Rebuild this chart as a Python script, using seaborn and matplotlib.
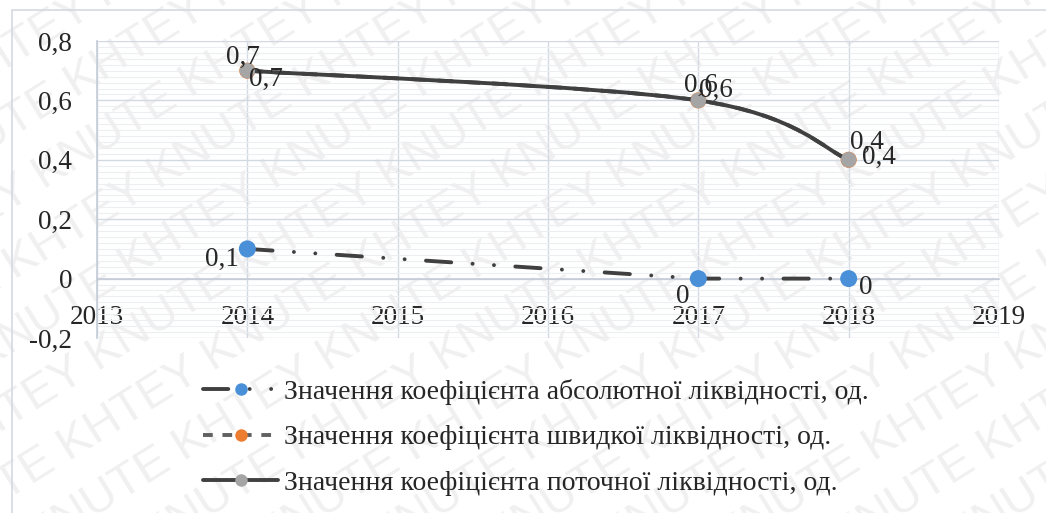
import numpy as np
import pandas as pd
import seaborn as sns
import matplotlib.pyplot as plt
from matplotlib.path import Path
from matplotlib.patches import PathPatch, Rectangle
from matplotlib.lines import Line2D
from matplotlib.ticker import MultipleLocator

years = [2014, 2017, 2018]
absolute = [0.1, 0.0, 0.0]
quick = [0.7, 0.6, 0.4]
current = [0.7, 0.6, 0.4]

abs_labels = ["0,1", "0", "0"]
quick_labels = ["0,7", "0,6", "0,4"]
current_labels = ["0,7", "0,6", "0,4"]

series_names = [
    "Значення коефіцієнта абсолютної ліквідності, од.",
    "Значення коефіцієнта швидкої ліквідності, од.",
    "Значення коефіцієнта поточної ліквідності, од.",
]

x_ticks = [2013, 2014, 2015, 2016, 2017, 2018, 2019]
y_ticks = [-0.2, 0.0, 0.2, 0.4, 0.6, 0.8]
y_ticklabels = ["-0,2", "0", "0,2", "0,4", "0,6", "0,8"]

df = pd.DataFrame({"year": years, "absolute": absolute, "quick": quick, "current": current})

sns.set_theme(style="white")
SERIF = "Liberation Serif"
plt.rcParams["font.family"] = SERIF
FS = 19.5
FS_LEG = 20

fig = plt.figure(figsize=(10.46, 5.13), dpi=100)

# watermark
for i in range(-8, 12):
    fig.text(-0.15 + i * 0.11, -0.45, "KNUTE KHTEY " * 10, rotation=32, fontsize=34,
             family="Liberation Sans", color="#f0f0f0", zorder=-1, ha="left", va="bottom")

# outer border of the chart area
fig.patches.append(Rectangle((12 / 1046, -0.05), 1.1, 1 - 10 / 513 + 0.05, transform=fig.transFigure,
                             fill=False, edgecolor="#d5d9e0", lw=1.2, zorder=1))

ax = fig.add_axes([97 / 1046, 1 - 338 / 513, 902 / 1046, 297 / 513])
ax.set_zorder(2)
ax.patch.set_alpha(0)
ax.set_xlim(2013, 2019)
ax.set_ylim(-0.2, 0.8)

ax.yaxis.set_minor_locator(MultipleLocator(0.02))
ax.grid(which="minor", axis="y", color="#eceef2", lw=0.8)
ax.grid(which="major", axis="both", color="#d3d9e3", lw=1.0)
ax.set_axisbelow(True)

for s in ["top", "right"]:
    ax.spines[s].set_visible(False)
for s in ["left", "bottom"]:
    ax.spines[s].set_color("#c5ccd8")
    ax.spines[s].set_linewidth(1.2)
ax.spines["bottom"].set_position(("data", 0))

LW = 2.8
LINE = "#404040"
ABS_DASH = (0, (6.5, 5.5, 0.01, 5.5, 0.01, 5.5))


def smooth_path(xs, ys):
    pts = np.column_stack([xs, ys]).astype(float)
    ext = np.vstack([pts[0], pts, pts[-1]])
    verts = [pts[0]]
    codes = [Path.MOVETO]
    for i in range(len(pts) - 1):
        p0, p1, p2, p3 = ext[i], ext[i + 1], ext[i + 2], ext[i + 3]
        verts += [p1 + (p2 - p0) / 6, p2 - (p3 - p1) / 6, p2]
        codes += [Path.CURVE4] * 3
    return Path(verts, codes)


# quick liquidity (hidden under current)
ax.add_patch(PathPatch(smooth_path(df["year"], df["quick"]), fill=False, edgecolor=LINE,
                       lw=LW, linestyle=(0, (4, 3)), zorder=3))
sns.scatterplot(data=df, x="year", y="quick", ax=ax, color="#ED7D31", s=135,
                edgecolor="none", zorder=4, legend=False)

# current liquidity
ax.add_patch(PathPatch(smooth_path(df["year"], df["current"]), fill=False, edgecolor=LINE,
                       lw=LW, capstyle="round", zorder=5))
sns.scatterplot(data=df, x="year", y="current", ax=ax, color="#A5A5A5", s=125,
                edgecolor="none", zorder=6, legend=False)

# absolute liquidity
sns.lineplot(data=df, x="year", y="absolute", ax=ax, color=LINE, lw=LW,
             zorder=5, legend=False)
ax.lines[-1].set_linestyle(ABS_DASH)
ax.lines[-1].set_dash_capstyle("round")
sns.scatterplot(data=df, x="year", y="absolute", ax=ax, color="#4A90D9", s=150,
                edgecolor="none", zorder=7, legend=False)

ax.set_xlabel("")
ax.set_ylabel("")

ax.set_xticks(x_ticks)
ax.set_xticklabels([str(x) for x in x_ticks], fontsize=FS, family=SERIF)
ax.set_yticks(y_ticks)
ax.set_yticklabels(y_ticklabels, fontsize=FS, family=SERIF)
ax.tick_params(axis="x", length=0, pad=19)
ax.tick_params(axis="y", length=0, pad=18)
ax.tick_params(axis="y", which="minor", length=0)

# data labels (offsets in pixels: right, up)
abs_off = [(-25, -11), (-16, -18), (17, -9)]
quick_off = [(-4, 13), (3, 15), (18, 17)]
cur_off = [(19, -9), (18, 10), (30, 2)]
to_pt = 72 / 100
for vals, labels, offs in [(absolute, abs_labels, abs_off),
                           (quick, quick_labels, quick_off),
                           (current, current_labels, cur_off)]:
    for x, y, t, o in zip(years, vals, labels, offs):
        ax.annotate(t, (x, y), xytext=(o[0] * to_pt, o[1] * to_pt), textcoords="offset points",
                    ha="center", va="center", fontsize=FS, family=SERIF, zorder=8)

# legend
handles = [
    Line2D([], [], color=LINE, lw=LW, linestyle=ABS_DASH, dash_capstyle="round",
           marker="o", markersize=9, markerfacecolor="#4A90D9", markeredgecolor="none"),
    Line2D([], [], color="#606060", lw=LW, linestyle=(0, (2.5, 2.5)), marker="o", markersize=9,
           markerfacecolor="#ED7D31", markeredgecolor="none"),
    Line2D([], [], color=LINE, lw=LW, marker="o", markersize=9,
           markerfacecolor="#A5A5A5", markeredgecolor="none"),
]
fig.legend(handles, series_names, loc="upper left", bbox_to_anchor=(203 / 1046, 1 - 379 / 513),
           frameon=False, prop={"family": SERIF, "size": FS_LEG}, handlelength=2.7, handletextpad=0.2,
           labelspacing=0.72, borderpad=0, borderaxespad=0)

fig.savefig("out.png", dpi=100)
